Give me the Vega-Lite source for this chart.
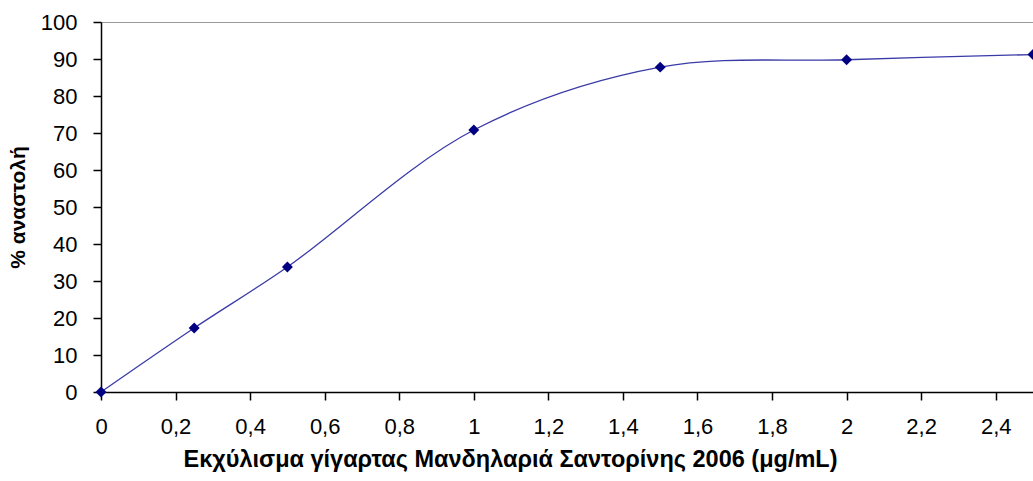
{
  "$schema": "https://vega.github.io/schema/vega-lite/v6.json",
  "width": 932,
  "height": 370,
  "autosize": {"type": "none"},
  "padding": {"left": 101, "top": 22, "right": 0, "bottom": 89},
  "background": "white",
  "config": {
    "view": {"stroke": "#999999", "strokeWidth": 1},
    "font": "Liberation Sans",
    "axis": {
      "grid": false,
      "domainColor": "#000000",
      "domainWidth": 1.5,
      "tickColor": "#000000",
      "tickWidth": 1.5,
      "tickSize": 8,
      "labelColor": "#000000",
      "labelFont": "Liberation Sans",
      "labelFontSize": 22,
      "labelFlush": false,
      "titleFont": "Liberation Sans",
      "titleFontWeight": "bold",
      "titleColor": "#000000"
    }
  },
  "data": {
    "values": [
      {"conc": 0, "inh": 0},
      {"conc": 0.25, "inh": 17.3},
      {"conc": 0.5, "inh": 33.8},
      {"conc": 1, "inh": 70.8},
      {"conc": 1.5, "inh": 87.8},
      {"conc": 2, "inh": 89.8},
      {"conc": 2.5, "inh": 91.2}
    ]
  },
  "encoding": {
    "x": {
      "field": "conc",
      "type": "quantitative",
      "scale": {"domain": [0, 2.5], "nice": false, "zero": true},
      "axis": {
        "title": "Εκχύλισμα γίγαρτας Μανδηλαριά Σαντορίνης 2006 (μg/mL)",
        "values": [0, 0.2, 0.4, 0.6, 0.8, 1, 1.2, 1.4, 1.6, 1.8, 2, 2.2, 2.4],
        "labelExpr": "replace(format(datum.value, '~g'), '.', ',')",
        "labelPadding": 16,
        "titleFontSize": 23.5,
        "titlePadding": 10,
        "titleX": 409,
        "titleAnchor": "middle"
      }
    },
    "y": {
      "field": "inh",
      "type": "quantitative",
      "scale": {"domain": [0, 100], "nice": false},
      "axis": {
        "title": "% αναστολή",
        "values": [0, 10, 20, 30, 40, 50, 60, 70, 80, 90, 100],
        "labelPadding": 16,
        "titleFontSize": 21,
        "titlePadding": 12
      }
    }
  },
  "layer": [
    {
      "mark": {"type": "line", "interpolate": "catmull-rom", "color": "#3b3ba8", "strokeWidth": 1.3}
    },
    {
      "mark": {"type": "point", "shape": "diamond", "filled": true, "color": "#000080", "size": 120, "opacity": 1}
    }
  ]
}
